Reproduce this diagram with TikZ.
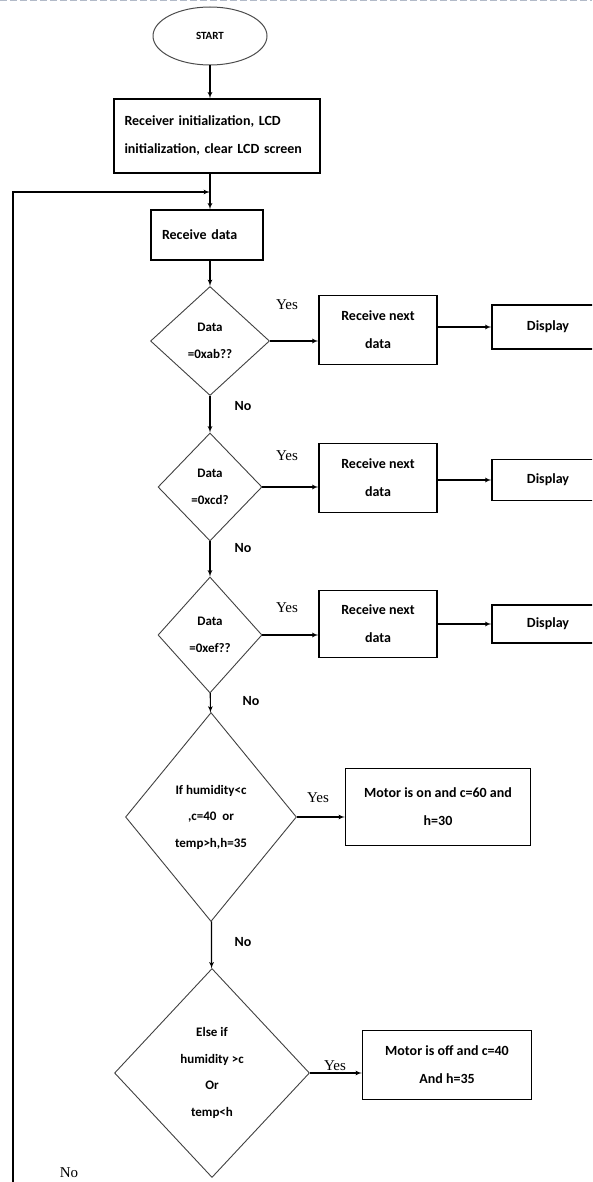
\documentclass[tikz,border=0pt]{standalone}
\usepackage{fontspec}
\setmainfont{Carlito}
\newfontfamily\timesface{Liberation Serif}
\usepackage{tikz}
\usetikzlibrary{shapes,arrows,positioning}
\definecolor{pagerule}{RGB}{178,186,200}

\begin{document}
\begin{tikzpicture}[x=1pt,y=-1pt,>=latex',
  txt/.style={font=\bfseries\fontsize{14}{28}\selectfont},
  box/.style={draw,line width=1.2pt,txt,align=center,inner sep=0pt},
  decision/.style={diamond,aspect=1,draw=black!75,line width=0.9pt,font=\bfseries\fontsize{13}{26.5}\selectfont,align=center,inner sep=0pt},
  yes/.style={font=\timesface\fontsize{15}{15}\selectfont},
  no/.style={font=\bfseries\fontsize{14}{14}\selectfont},
  line/.style={line width=1.2pt}]
  \useasboundingbox (0,0) rectangle (592,1182);
  \clip (0,0) rectangle (592,1182);
  \draw[pagerule,dash pattern=on 7pt off 3pt,line width=1pt] (0,1) -- (592,1);

  \node (start) [ellipse,draw=black!70,line width=1pt,minimum width=114pt,minimum height=58pt,inner sep=0pt,font=\bfseries\fontsize{11}{13}\selectfont] at (210,36) {START};
  \node (init) [box,minimum width=206pt,minimum height=74pt,text width=185pt,align=left] at (217,136) {Receiver initialization, LCD\\initialization, clear LCD screen};
  \node (recv) [box,minimum width=112pt,minimum height=50pt,text width=90pt,align=left] at (207,235) {Receive data};
  \coordinate (merge) at (210,192);
  \coordinate (loopend) at (13,1190);

  \node (d1) [decision,minimum width=119pt,minimum height=109pt] at (210,341) {Data\\=0xab??};
  \node (d2) [decision,minimum width=104pt,minimum height=108pt] at (210,487) {Data\\=0xcd?};
  \node (d3) [decision,minimum width=104pt,minimum height=116pt] at (210,635) {Data\\=0xef??};
  \node (d4) [decision,minimum width=171pt,minimum height=209pt] at (211,817) {If humidity<c\\,c=40\ \ or\\temp>h,h=35};
  \node (d5) [decision,minimum width=195pt,minimum height=209pt] at (212,1073) {Else if\\humidity >c\\Or\\temp<h};

  \node (b1) [box,minimum width=118pt,minimum height=69pt] at (378,330) {Receive next\\data};
  \node (b2) [box,minimum width=118pt,minimum height=69pt] at (378,478) {Receive next\\data};
  \node (b3) [box,minimum width=118pt,minimum height=67pt] at (378,624) {Receive next\\data};
  \node (disp1) [box,minimum width=112pt,minimum height=44pt] at (548,327) {Display};
  \node (disp2) [box,minimum width=112pt,minimum height=41pt] at (548,480) {Display};
  \node (disp3) [box,minimum width=112pt,minimum height=38pt] at (548,624) {Display};
  \node (b4) [box,minimum width=185pt,minimum height=77pt] at (438,807) {Motor is on and c=60 and\\h=30};
  \node (b5) [box,minimum width=169pt,minimum height=69pt] at (447,1065) {Motor is off and c=40\\And h=35};

  \node (yes1) [yes] at (287,305) {Yes};
  \node (yes2) [yes] at (287,456) {Yes};
  \node (yes3) [yes] at (287,608) {Yes};
  \node (yes4) [yes] at (318,798) {Yes};
  \node (yes5) [yes] at (335,1066) {Yes};
  \node (no1) [no] at (243,406) {No};
  \node (no2) [no] at (243,548) {No};
  \node (no3) [no] at (251,701) {No};
  \node (no4) [no] at (243,942) {No};
  \node (no5) [yes] at (69,1173) {No};

  \draw[->,line] (start) -- (start |- init.north);
  \draw[->,line] (init.south -| merge) -- (merge |- recv.north);
  \draw[->,line] (loopend) |- (merge);
  \draw[->,line] (recv.south -| merge) -- (d1);
  \draw[->,line] (d1) -- (d2);
  \draw[->,line] (d2) -- (d3);
  \draw[->,line] (d3) -- (d4);
  \draw[->,line] (d4) -- (d5);
  \draw[->,line] (d1) -- (d1 -| b1.west);
  \draw[->,line] (d2) -- (d2 -| b2.west);
  \draw[->,line] (d3) -- (d3 -| b3.west);
  \draw[->,line] (d4) -- (d4 -| b4.west);
  \draw[->,line] (d5) -- (d5 -| b5.west);
  \draw[->,line] (disp1 -| b1.east) -- (disp1.west);
  \draw[->,line] (disp2 -| b2.east) -- (disp2.west);
  \draw[->,line] (disp3 -| b3.east) -- (disp3.west);
\end{tikzpicture}
\end{document}
